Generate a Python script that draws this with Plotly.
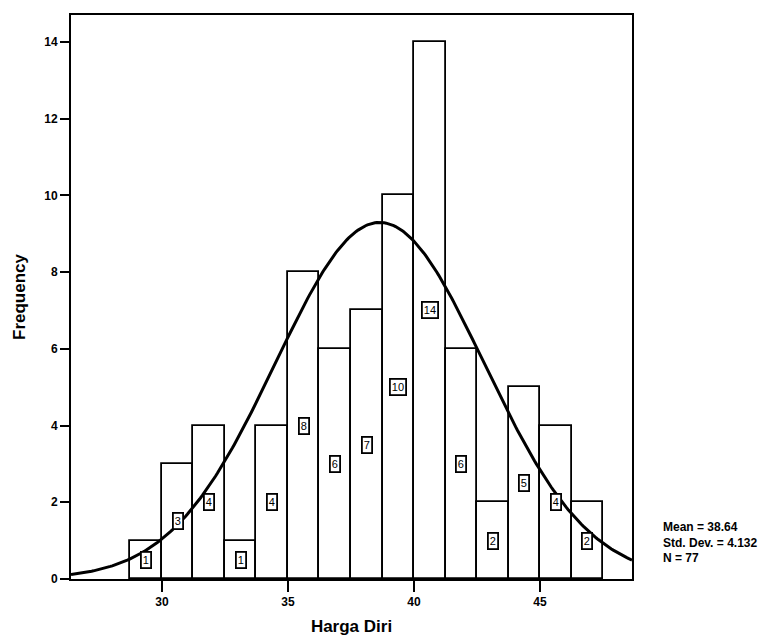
import numpy as np
import plotly.graph_objects as go

# Histogram bins (lower edges) and counts
bin_start = [28.75, 30.0, 31.25, 32.5, 33.75, 35.0, 36.25, 37.5, 38.75, 40.0, 41.25, 42.5, 43.75, 45.0, 46.25]
counts = [1, 3, 4, 1, 4, 8, 6, 7, 10, 14, 6, 2, 5, 4, 2]
bin_width = 1.25

mean_val = 38.64
std_val = 4.132
n_val = 77

x_range = [26.39, 48.65]
y_range = [0, 14.7]
x_ticks = [30, 35, 40, 45]
y_ticks = [0, 2, 4, 6, 8, 10, 12, 14]

centers = [b + bin_width / 2 for b in bin_start]

# fitted normal curve (from stated mean, sd, N)
xs = np.linspace(x_range[0], x_range[1], 300)
ys = n_val * bin_width / (std_val * np.sqrt(2 * np.pi)) * np.exp(-0.5 * ((xs - mean_val) / std_val) ** 2)

fig = go.Figure()
fig.add_trace(go.Bar(
    x=centers, y=counts, width=bin_width,
    marker=dict(color="white", line=dict(color="black", width=1.8)),
    showlegend=False, hoverinfo="skip",
))
fig.add_trace(go.Scatter(
    x=xs, y=ys, mode="lines",
    line=dict(color="black", width=3),
    showlegend=False, hoverinfo="skip",
))

for c, v in zip(centers, counts):
    fig.add_annotation(
        x=c, y=v / 2, text=str(v), showarrow=False,
        font=dict(family="Liberation Sans", size=11, color="black"),
        bgcolor="white", bordercolor="black", borderwidth=1.8, borderpad=1,
    )

fig.add_annotation(
    xref="paper", yref="paper", x=1.052, y=0.065, xanchor="left", yanchor="middle",
    align="left", showarrow=False,
    text=f"Mean = {mean_val:.2f}<br>Std. Dev. = {std_val:.3f}<br>N = {n_val}",
    font=dict(family="Liberation Sans", size=12, color="black", weight="bold"),
)

fig.update_layout(
    width=774, height=643,
    margin=dict(l=63, r=150, t=5, b=72),
    paper_bgcolor="white", plot_bgcolor="white",
    bargap=0,
    xaxis=dict(
        range=x_range, tickvals=x_ticks, ticks="outside", ticklen=11, tickwidth=1.8,
        tickcolor="black", showline=True, linecolor="black", linewidth=1.8, mirror=True,
        showgrid=False, zeroline=False,
        tickfont=dict(family="Liberation Sans", size=12, color="black", weight="bold"),
        title=dict(text="<b>Harga Diri</b>", font=dict(family="Liberation Sans", size=17, color="black"), standoff=12),
    ),
    yaxis=dict(
        range=y_range, tickvals=y_ticks, ticks="outside", ticklen=9, tickwidth=1.8,
        tickcolor="black", showline=True, linecolor="black", linewidth=1.8, mirror=True,
        showgrid=False, zeroline=False,
        tickfont=dict(family="Liberation Sans", size=12, color="black", weight="bold"),
        title=dict(text="<b>Frequency</b>", font=dict(family="Liberation Sans", size=17, color="black"), standoff=14),
    ),
)

fig.write_html("out.html")
